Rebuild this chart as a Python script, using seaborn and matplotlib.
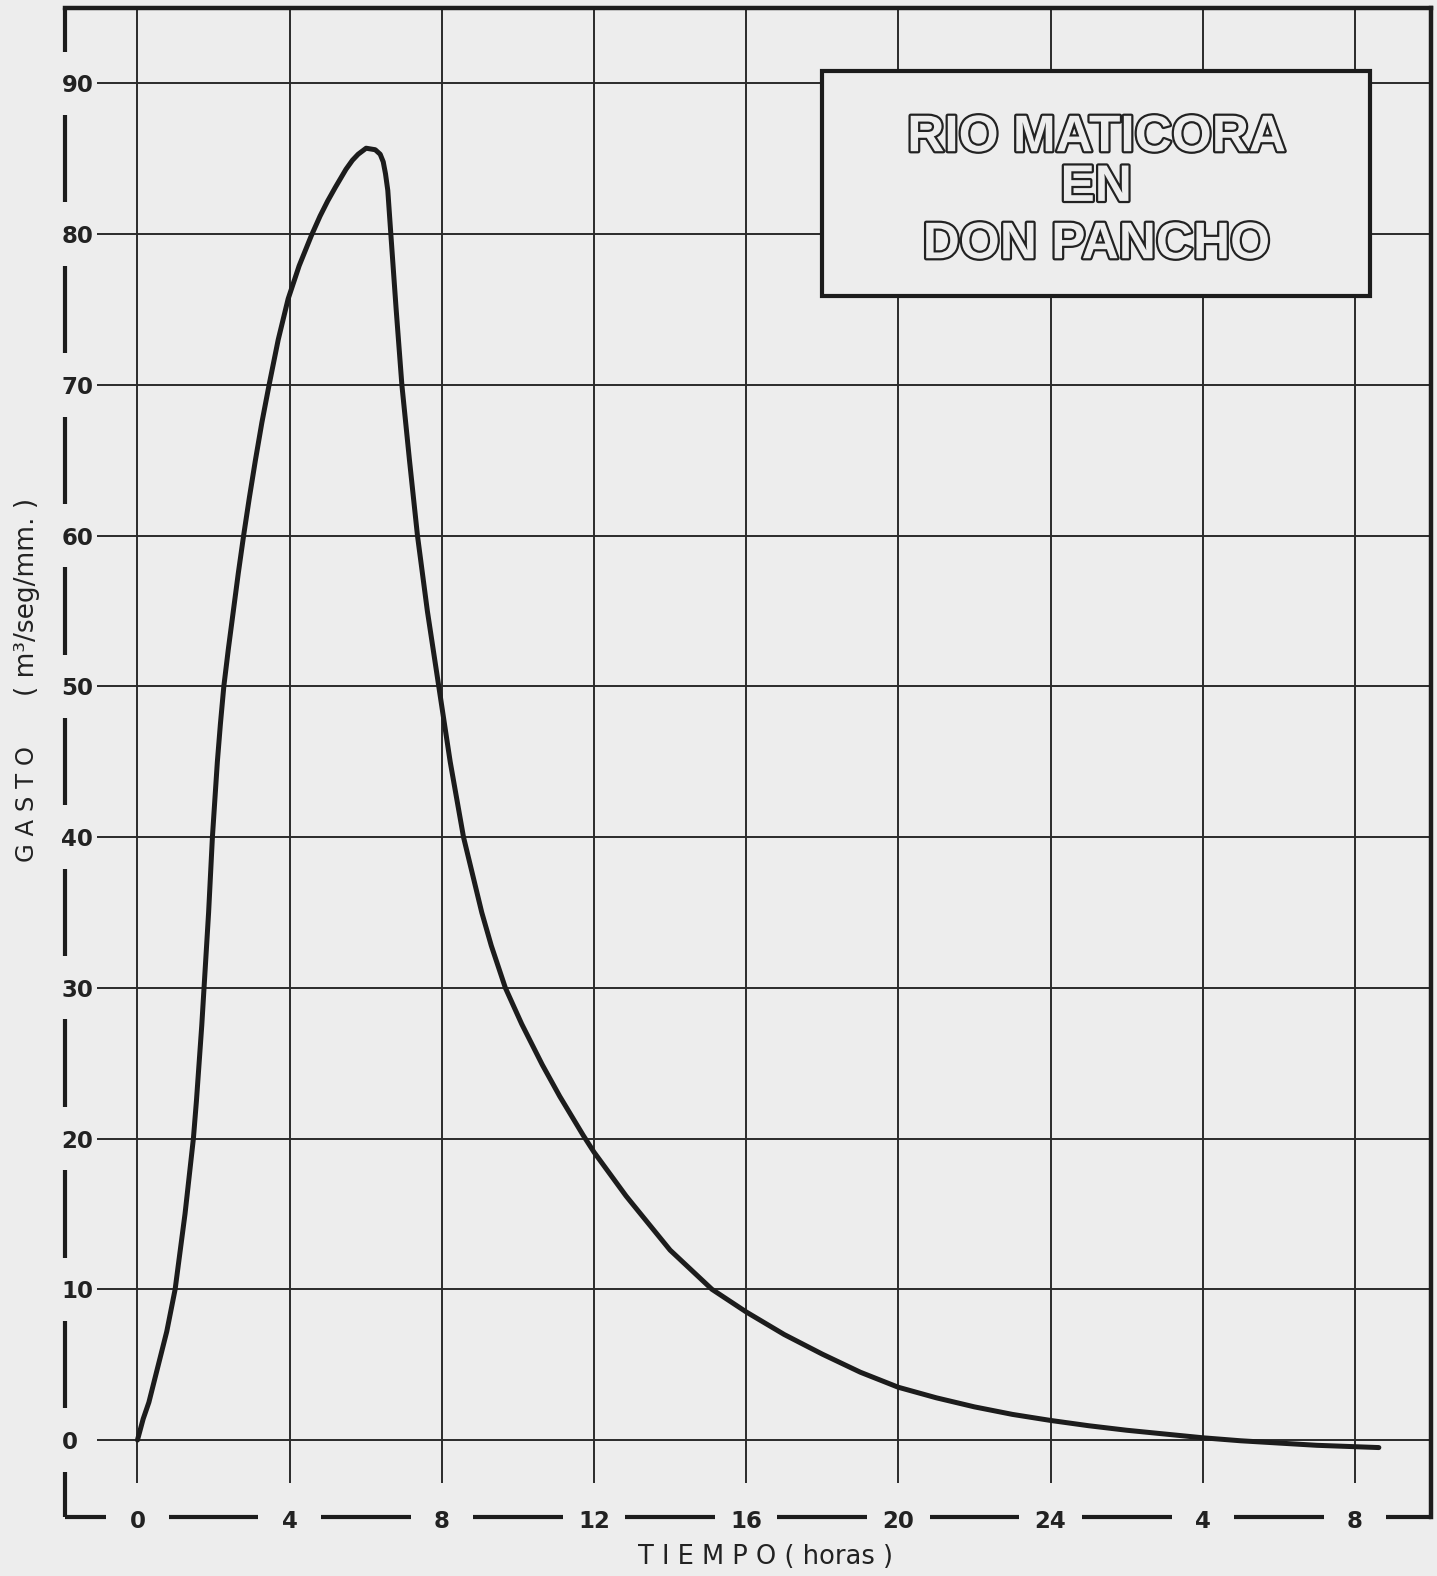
import seaborn as sns
import matplotlib.pyplot as plt
from matplotlib.patches import Rectangle
import matplotlib.patheffects as pe


# hydrograph: hours vs m3/seg/mm
hours = [0, 0.15, 0.3, 0.55, 0.77, 0.99, 1.12, 1.25, 1.36, 1.47, 1.55, 1.62,
         1.69, 1.75, 1.81, 1.87, 1.92, 1.97, 2.04, 2.1, 2.18, 2.27, 2.39,
         2.52, 2.65, 2.79, 2.94, 3.1, 3.27, 3.46, 3.7, 3.96, 4.25, 4.57,
         4.8, 5.0, 5.2, 5.48, 5.65, 5.8, 6.01, 6.25, 6.38, 6.46, 6.52, 6.58,
         6.66, 6.8, 6.95, 7.15, 7.36, 7.62, 7.92, 8.22, 8.57, 9.05, 9.3,
         9.67, 10.1, 10.64, 11.1, 11.72, 12.0, 12.84, 13.0, 14.0,
         15.1, 16.0, 17.0, 18.0, 19.0, 20.0, 21.0, 22.0, 23.0, 24.0, 25.0,
         26.0, 27.0, 28.0, 29.0, 30.0, 31.0, 32.63]
gasto = [0, 1.4, 2.5, 5, 7.2, 10, 12.5, 15, 17.5, 20, 22.5, 25,
         27.5, 30, 32.5, 35, 37.5, 40, 42.7, 45, 47.5, 50, 52.5,
         55, 57.5, 60, 62.5, 65, 67.5, 70, 73.0, 75.7, 77.9, 79.9,
         81.2, 82.2, 83.1, 84.3, 84.9, 85.3, 85.7, 85.6, 85.3, 84.8, 84.0, 82.9,
         80, 75, 70, 65, 60, 55, 50, 45, 40, 35, 32.8,
         30, 27.6, 24.9, 22.8, 20.2, 19.1, 16.2, 15.7, 12.6,
         10.0, 8.5, 7.0, 5.7, 4.5, 3.5, 2.8, 2.2, 1.7, 1.3, 0.95,
         0.65, 0.4, 0.15, -0.05, -0.2, -0.35, -0.5]

xticks = [0, 4, 8, 12, 16, 20, 24, 28, 32]
xtick_labels = ['0', '4', '8', '12', '16', '20', '24', '4', '8']
yticks = [0, 10, 20, 30, 40, 50, 60, 70, 80, 90]
title_lines = ['RIO MATICORA', 'EN', 'DON PANCHO']

paper = '#ededed'
ink = '#1c1c1c'

sns.set_style("ticks")
plt.rcParams['font.family'] = ['DejaVu Sans']

fig = plt.figure(figsize=(14.37, 15.76), dpi=100, facecolor=paper)
ax = fig.add_axes([0.0452, 0.0374, 0.9506, 0.9575])
ax.set_facecolor(paper)

xmin, xmax = -1.906, 34.0
ymin, ymax = -5.11, 95.0
ax.set_xlim(xmin, xmax)
ax.set_ylim(ymin, ymax)

# grid, drawn by hand because it stops short of the left/bottom axes
ax.hlines(yticks, -1.065, xmax, color='#2a2a2a', lw=1.4, zorder=1)
ax.vlines(xticks, -2.86, ymax, color='#2a2a2a', lw=1.4, zorder=1)

sns.lineplot(x=hours, y=gasto, color=ink, linewidth=3.6, ax=ax, zorder=4,
             sort=False, solid_capstyle='round', solid_joinstyle='round')

# spines: solid top/right, dashed left/bottom broken by the labels
for side in ['top', 'right']:
    ax.spines[side].set_linewidth(3.2)
    ax.spines[side].set_color(ink)
    ax.spines[side].set_capstyle('projecting')
ax.spines['left'].set_visible(False)
ax.spines['bottom'].set_visible(False)

gy = 2.1
ybreaks = [ymin] + yticks + [ymax]
for a, b in zip(ybreaks[:-1], ybreaks[1:]):
    lo = a + gy if a in yticks else a
    hi = b - gy if b in yticks else b
    ax.plot([0, 0], [lo, hi], color=ink, lw=3.0, solid_capstyle='butt',
            transform=ax.get_yaxis_transform(), clip_on=False, zorder=5)

gx = 0.82
xbreaks = [xmin] + xticks + [xmax]
for a, b in zip(xbreaks[:-1], xbreaks[1:]):
    lo = a + gx if a in xticks else a
    hi = b - gx if b in xticks else b
    ax.plot([lo, hi], [0, 0], color=ink, lw=3.0, solid_capstyle='butt',
            transform=ax.get_xaxis_transform(), clip_on=False, zorder=5)

ax.set_yticks(yticks, labels=[str(v) for v in yticks], ha='left',
              fontsize=16.5, fontweight='bold', color='#222222')
ax.set_xticks(xticks, labels=xtick_labels, va='center',
              fontsize=16.5, fontweight='bold', color='#222222')
ax.tick_params(axis='y', length=0, pad=2.5)
ax.tick_params(axis='x', length=0, pad=3)

# title box
ax.add_patch(Rectangle((18.0, 75.9), 14.4, 14.93, facecolor=paper,
                       edgecolor=ink, lw=3.0, zorder=3))
outline = [pe.Stroke(linewidth=3.2, foreground='#222222'), pe.Normal()]
for txt, yy in zip(title_lines, [86.4, 83.1, 79.3]):
    ax.text(25.2, yy, txt, ha='center', va='center', fontsize=37,
            fontweight='bold', family=['Liberation Sans', 'DejaVu Sans'],
            color=paper, path_effects=outline, zorder=6)

# axis titles
fig.text(765 / 1437, 1 - 1557 / 1576, 'T I E M P O ( horas )', ha='center',
         va='center', fontsize=18.5, color='#222222')
fig.text(27 / 1437, 1 - 804 / 1576, 'G A S T O', ha='center', va='center',
         rotation=90, fontsize=17.5, color='#222222')
fig.text(27 / 1437, 1 - 597 / 1576, '( m³/seg/mm. )', ha='center',
         va='center', rotation=90, fontsize=19, color='#222222')

fig.savefig('out.png', dpi=100, facecolor=paper)
